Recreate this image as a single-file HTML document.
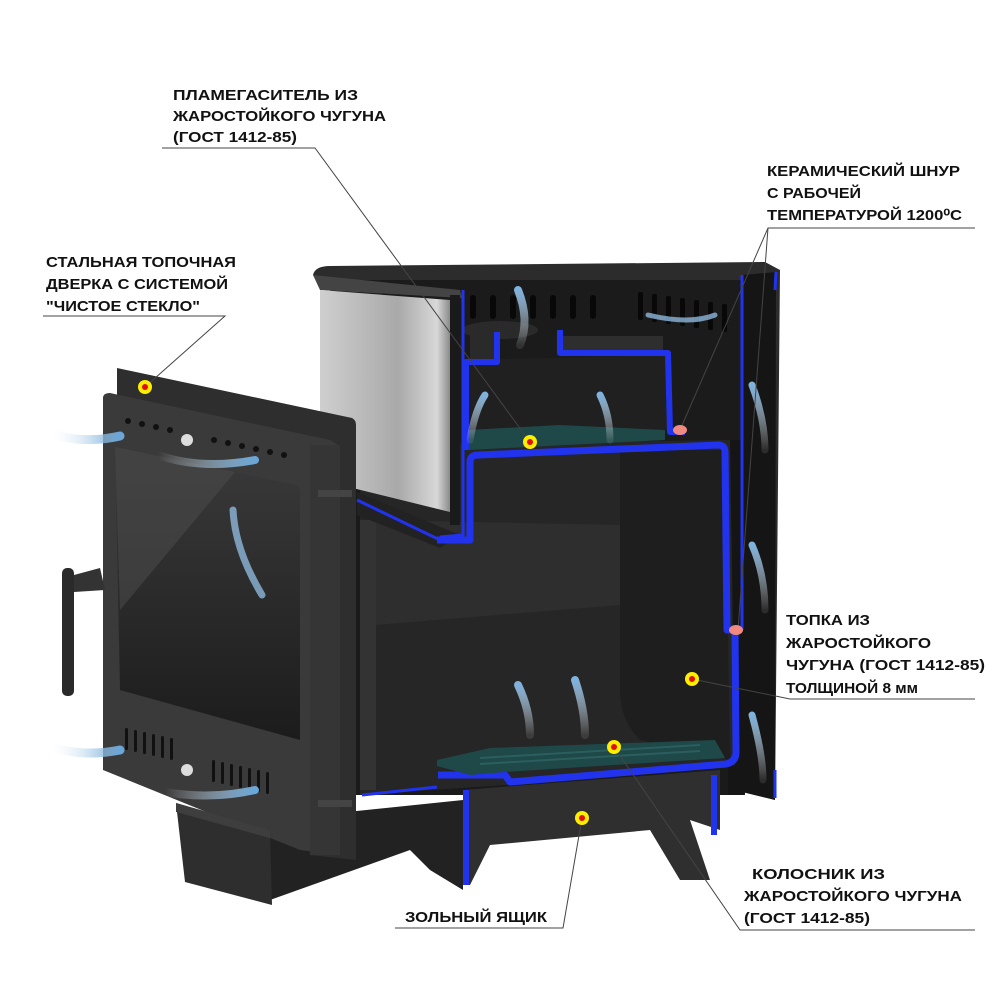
<!DOCTYPE html>
<html><head><meta charset="utf-8"><style>
html,body{margin:0;padding:0;background:#fff;}
svg{display:block}
text{font-family:"Liberation Sans","Noto Sans CJK SC",sans-serif;font-weight:bold;font-size:15px;fill:#111}
</style></head><body>
<svg width="1000" height="1000" viewBox="0 0 1000 1000" xmlns="http://www.w3.org/2000/svg">
<defs>
<linearGradient id="steel" x1="0" x2="1" y1="0" y2="0">
<stop offset="0" stop-color="#cfcfcf"/><stop offset="0.6" stop-color="#a9a9a9"/><stop offset="0.9" stop-color="#d8d8d8"/><stop offset="1" stop-color="#8a8a8a"/></linearGradient>
<linearGradient id="glass" x1="0" x2="0" y1="0" y2="1">
<stop offset="0" stop-color="#3a3a3a"/><stop offset="1" stop-color="#1c1c1c"/></linearGradient>
<linearGradient id="wisp" x1="0" x2="1"><stop offset="0" stop-color="#fff" stop-opacity="0"/><stop offset="1" stop-color="#6aa7d8"/></linearGradient>
<linearGradient id="wispv" x1="0" x2="0" y1="1" y2="0"><stop offset="0" stop-color="#fff" stop-opacity="0.1"/><stop offset="1" stop-color="#7fb2dc"/></linearGradient>
</defs>

<!-- back body fill -->
<rect x="355" y="280" width="390" height="515" fill="#1a1a1a"/>
<!-- back top rim -->
<path d="M313 275 Q315 266 330 266 L765 262 L780 270 L775 800 L740 790 L740 282 L330 290 Z" fill="#2c2c2c"/>
<!-- back wall -->
<rect x="330" y="280" width="415" height="190" fill="#1b1b1b"/>
<!-- vents -->
<g fill="#080808">
<rect x="470" y="295" width="6" height="24" rx="3"/><rect x="490" y="295" width="6" height="24" rx="3"/><rect x="510" y="295" width="6" height="24" rx="3"/><rect x="530" y="295" width="6" height="24" rx="3"/><rect x="550" y="295" width="6" height="24" rx="3"/><rect x="570" y="295" width="6" height="24" rx="3"/><rect x="590" y="295" width="6" height="24" rx="3"/>
<rect x="638" y="292" width="5" height="28" rx="2"/><rect x="652" y="294" width="5" height="28" rx="2"/><rect x="666" y="296" width="5" height="28" rx="2"/><rect x="680" y="298" width="5" height="28" rx="2"/><rect x="694" y="300" width="5" height="28" rx="2"/><rect x="708" y="302" width="5" height="28" rx="2"/><rect x="722" y="304" width="5" height="28" rx="2"/>
</g>
<!-- right side panel -->
<path d="M742 275 L776 272 L775 800 L742 792 Z" fill="#151515"/>
<rect x="728" y="440" width="16" height="355" fill="#151515"/>
<!-- firebox interior -->
<path d="M360 445 L730 440 L735 765 L505 785 L360 795 Z" fill="#262626"/>
<path d="M375 520 L620 525 L620 605 L375 625 Z" fill="#2e2e2e"/>
<path d="M620 450 L725 450 L730 760 L640 740 Q620 720 620 690 Z" fill="#1e1e1e"/>
<rect x="360" y="520" width="16" height="270" fill="#333"/>
<!-- upper chamber -->
<path d="M462 360 L670 355 L672 430 L462 450 Z" fill="#202020"/>
<ellipse cx="500" cy="330" rx="38" ry="9" fill="#2a2a2a"/>
<rect x="470" y="330" width="30" height="30" fill="#2a2a2a"/>
<rect x="563" y="336" width="100" height="18" fill="#2e2e2e"/>
<!-- flame damper teal -->
<path d="M468 430 L560 425 L665 430 L665 440 L468 450 Z" fill="#1f4848"/>
<!-- steel plate -->
<path d="M313 275 L460 290 L462 298 L320 290 Z" fill="#444"/>
<path d="M320 290 L450 300 L450 512 L320 480 Z" fill="url(#steel)"/>
<rect x="450" y="295" width="10" height="230" fill="#1a1a1a"/>
<path d="M357 492 L460 535 L440 548 L357 515 Z" fill="#222"/>
<!-- blue outlines -->
<g fill="none" stroke="#2233ee" stroke-linejoin="round">
<path d="M463 290 L463 535 L440 537 M357 500 L440 540" stroke-width="3"/>
<path d="M466 450 L466 362 L497 362 L497 332 M560 330 L560 353 L668 353 L670 432 L685 432" stroke-width="6"/>
<path d="M437 540 L470 540 L470 462 Q470 455 478 455 L718 445 Q725 445 725 452 L727 630 L735 630 L736 752 Q736 762 726 764 L510 782 L505 775 L438 775" stroke-width="7"/>
<path d="M742 275 L742 630" stroke-width="3"/>
<path d="M776 272 L775 290 M775 770 L775 798" stroke-width="3"/>
<path d="M362 795 L437 787" stroke-width="3"/>
</g>
<!-- grate -->
<path d="M437 766 L470 775 L505 772 L725 758 L715 740 L490 748 L437 760 Z" fill="#1f4848"/>
<g stroke="#2b5e5e" stroke-width="2"><line x1="480" y1="758" x2="700" y2="745"/><line x1="480" y1="764" x2="700" y2="751"/></g>
<!-- ash box -->
<path d="M463 790 L720 770 L720 830 L690 820 L710 880 L680 880 L650 830 L490 845 L470 885 L463 885 Z" fill="#2f2f2f"/>
<rect x="463" y="790" width="6" height="95" fill="#2233ee"/>
<rect x="711" y="775" width="6" height="60" fill="#2233ee"/>
<!-- base under door -->
<path d="M270 820 L463 800 L463 890 L430 870 L410 850 L270 900 Z" fill="#222"/>
<!-- door back plate -->
<path d="M117 368 L352 418 Q356 420 356 425 L356 860 L310 855 L310 440 L117 398 Z" fill="#2e2e2e"/>
<!-- door front -->
<path d="M103 398 Q103 393 110 393 L330 440 L338 445 L338 855 L300 850 L103 770 Z" fill="#3a3a3a"/>
<rect x="310" y="445" width="30" height="410" fill="#353535"/>
<rect x="318" y="490" width="34" height="7" fill="#444"/>
<rect x="318" y="800" width="34" height="7" fill="#444"/>
<!-- glass -->
<path d="M115 447 L295 485 Q300 486 300 492 L300 740 L120 690 Z" fill="url(#glass)"/>
<path d="M115 447 L235 472 L120 610 Z" fill="#4a4a4a" opacity="0.6"/>
<!-- vent holes top -->
<g fill="#111"><circle cx="128" cy="421" r="3"/><circle cx="142" cy="424" r="3"/><circle cx="156" cy="427" r="3"/><circle cx="170" cy="430" r="3"/><circle cx="214" cy="440" r="3"/><circle cx="228" cy="443" r="3"/><circle cx="242" cy="446" r="3"/><circle cx="256" cy="449" r="3"/><circle cx="270" cy="452" r="3"/><circle cx="284" cy="455" r="3"/></g>
<circle cx="187" cy="440" r="6" fill="#ddd"/>
<!-- lower vents -->
<g fill="#111">
<rect x="125" y="728" width="3" height="22" rx="1.5"/><rect x="134" y="730" width="3" height="22" rx="1.5"/><rect x="143" y="732" width="3" height="22" rx="1.5"/><rect x="152" y="734" width="3" height="22" rx="1.5"/><rect x="161" y="736" width="3" height="22" rx="1.5"/><rect x="170" y="738" width="3" height="22" rx="1.5"/>
<rect x="212" y="760" width="3" height="22" rx="1.5"/><rect x="221" y="762" width="3" height="22" rx="1.5"/><rect x="230" y="764" width="3" height="22" rx="1.5"/><rect x="239" y="766" width="3" height="22" rx="1.5"/><rect x="248" y="768" width="3" height="22" rx="1.5"/><rect x="257" y="770" width="3" height="22" rx="1.5"/><rect x="266" y="772" width="3" height="22" rx="1.5"/>
</g>
<circle cx="187" cy="770" r="6" fill="#ddd"/>
<!-- handle -->
<rect x="62" y="568" width="12" height="128" rx="5" fill="#2a2a2a"/>
<path d="M74 575 L100 568 L105 590 L74 592 Z" fill="#333"/>
<!-- ash pan front -->
<path d="M176 803 L270 830 L272 905 L185 882 Z" fill="#2e2e2e"/>
<path d="M176 803 L270 830 L270 838 L176 812 Z" fill="#3e3e3e"/>
<!-- air wisps -->
<g fill="none" stroke-linecap="round">
<path d="M48 432 Q80 445 120 436" stroke="url(#wisp)" stroke-width="9"/>
<path d="M158 455 Q200 470 255 460" stroke="url(#wisp)" stroke-width="8"/>
<path d="M48 745 Q80 758 120 750" stroke="url(#wisp)" stroke-width="9"/>
<path d="M165 792 Q210 800 255 790" stroke="url(#wisp)" stroke-width="8"/>
<path d="M233 510 Q235 550 262 595" stroke="#8fb8dc" stroke-width="7" opacity="0.8"/>
<path d="M520 345 Q530 320 518 290" stroke="url(#wispv)" stroke-width="8"/>
<path d="M470 440 Q475 410 485 395" stroke="url(#wispv)" stroke-width="7"/>
<path d="M610 440 Q610 415 600 395" stroke="url(#wispv)" stroke-width="7"/>
<path d="M530 735 Q530 710 518 685" stroke="url(#wispv)" stroke-width="8"/>
<path d="M585 735 Q585 710 575 680" stroke="url(#wispv)" stroke-width="8"/>
<path d="M765 450 Q765 420 752 385" stroke="url(#wispv)" stroke-width="7"/>
<path d="M765 610 Q765 575 752 545" stroke="url(#wispv)" stroke-width="7"/>
<path d="M763 780 Q763 755 752 715" stroke="url(#wispv)" stroke-width="7"/>
<path d="M715 315 Q690 325 648 315" stroke="#8fb8dc" stroke-width="5" opacity="0.8"/>
</g>
<!-- leader lines -->
<g stroke="#444" stroke-width="1" fill="none">
<polyline points="162,148 315,148 530,442"/>
<polyline points="975,228 768,228 680,430"/>
<polyline points="768,228 738,630"/>
<polyline points="43,316 225,316 145,387"/>
<polyline points="975,699 790,699 692,679"/>
<polyline points="975,930 740,930 614,747"/>
<polyline points="395,928 563,928 582,818"/>
</g>
<!-- dots -->
<g>
<circle cx="145" cy="387" r="7" fill="#ffee00"/><circle cx="145" cy="387" r="3" fill="#e01010"/>
<circle cx="530" cy="442" r="7" fill="#ffee00"/><circle cx="530" cy="442" r="3" fill="#e01010"/>
<circle cx="692" cy="679" r="7" fill="#ffee00"/><circle cx="692" cy="679" r="3" fill="#e01010"/>
<circle cx="614" cy="747" r="7" fill="#ffee00"/><circle cx="614" cy="747" r="3" fill="#e01010"/>
<circle cx="582" cy="818" r="7" fill="#ffee00"/><circle cx="582" cy="818" r="3" fill="#e01010"/>
<ellipse cx="680" cy="430" rx="7" ry="5" fill="#f08a80"/>
<ellipse cx="736" cy="630" rx="7" ry="5" fill="#f08a80"/>
</g>
<!-- labels -->
<text x="173" y="100" textLength="185" lengthAdjust="spacingAndGlyphs">ПЛАМЕГАСИТЕЛЬ ИЗ</text>
<text x="173" y="121" textLength="213" lengthAdjust="spacingAndGlyphs">ЖАРОСТОЙКОГО ЧУГУНА</text>
<text x="173" y="142" textLength="124" lengthAdjust="spacingAndGlyphs">(ГОСТ 1412-85)</text>
<text x="767" y="176" textLength="193" lengthAdjust="spacingAndGlyphs">КЕРАМИЧЕСКИЙ ШНУР</text>
<text x="767" y="198" textLength="94" lengthAdjust="spacingAndGlyphs">С РАБОЧЕЙ</text>
<text x="767" y="220" textLength="195" lengthAdjust="spacingAndGlyphs">ТЕМПЕРАТУРОЙ 1200⁰С</text>
<text x="46" y="267" textLength="190" lengthAdjust="spacingAndGlyphs">СТАЛЬНАЯ ТОПОЧНАЯ</text>
<text x="46" y="289" textLength="182" lengthAdjust="spacingAndGlyphs">ДВЕРКА С СИСТЕМОЙ</text>
<text x="46" y="311" textLength="154" lengthAdjust="spacingAndGlyphs">"ЧИСТОЕ СТЕКЛО"</text>
<text x="786" y="625" textLength="84" lengthAdjust="spacingAndGlyphs">ТОПКА ИЗ</text>
<text x="786" y="648" textLength="145" lengthAdjust="spacingAndGlyphs">ЖАРОСТОЙКОГО</text>
<text x="786" y="670" textLength="199" lengthAdjust="spacingAndGlyphs">ЧУГУНА (ГОСТ 1412-85)</text>
<text x="786" y="693" textLength="132" lengthAdjust="spacingAndGlyphs">ТОЛЩИНОЙ 8 мм</text>
<text x="752" y="879" textLength="133" lengthAdjust="spacingAndGlyphs">КОЛОСНИК ИЗ</text>
<text x="744" y="901" textLength="218" lengthAdjust="spacingAndGlyphs">ЖАРОСТОЙКОГО ЧУГУНА</text>
<text x="744" y="923" textLength="126" lengthAdjust="spacingAndGlyphs">(ГОСТ 1412-85)</text>
<text x="405" y="922" textLength="142" lengthAdjust="spacingAndGlyphs">ЗОЛЬНЫЙ ЯЩИК</text>
</svg>
</body></html>
